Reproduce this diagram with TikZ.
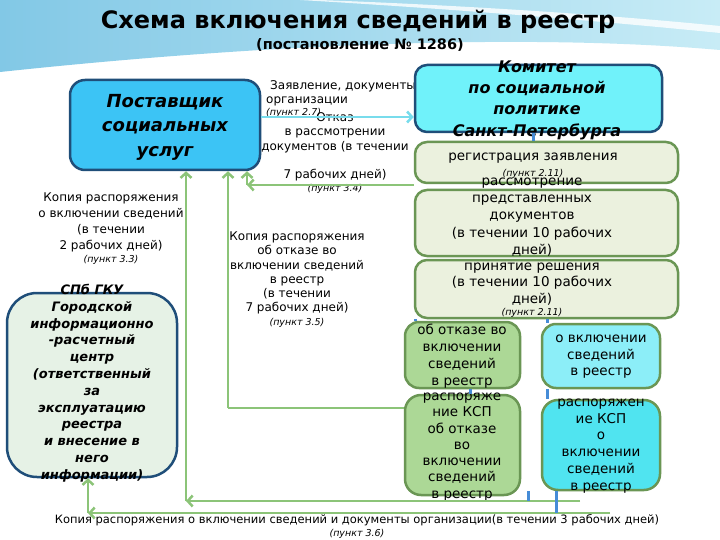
\documentclass[tikz,border=0pt]{standalone}
\usepackage{fontspec}
\setmainfont{DejaVu Sans}
\usetikzlibrary{arrows.meta,calc}

\definecolor{postblue}{RGB}{60,196,245}
\definecolor{komcyan}{RGB}{112,242,250}
\definecolor{darkedge}{RGB}{31,78,121}
\definecolor{paleolive}{RGB}{235,241,222}
\definecolor{greenedge}{RGB}{106,150,84}
\definecolor{refusegreen}{RGB}{172,216,150}
\definecolor{inclcyan}{RGB}{140,238,248}
\definecolor{ordercyan}{RGB}{80,228,240}
\definecolor{spbfill}{RGB}{230,242,230}
\definecolor{linkgreen}{RGB}{140,196,120}
\definecolor{linkcyan}{RGB}{120,220,236}
\definecolor{tickblue}{RGB}{70,140,215}
\definecolor{bgdeep}{RGB}{130,200,230}
\definecolor{bgpale}{RGB}{200,236,246}

\newcommand\setfs[2]{\fontsize{#1}{#2}\selectfont}

\begin{document}
\begin{tikzpicture}[x=1pt,y=-1pt,
    box/.style={rounded corners=#1, line width=2.5pt, inner sep=0pt},
    box/.default=12pt,
    lbl/.style={align=center, inner sep=0pt},
    garr/.style={draw=linkgreen, line width=2.5pt, -{Straight Barb[length=5pt,width=11pt]}},
    gline/.style={draw=linkgreen, line width=2.5pt},
    carr/.style={draw=linkcyan, line width=2.5pt, -{Straight Barb[length=5pt,width=11pt]}},
    bluetick/.style={draw=tickblue, line width=3pt}]

  % background
  \useasboundingbox (0,0) rectangle (720,540);
  \fill[white] (0,0) rectangle (720,540);
  \shade[left color=bgdeep, right color=bgpale] (0,0) -- (720,0) -- (720,50)
    .. controls (550,35) and (300,40) .. (0,72) -- cycle;
  \fill[white, opacity=0.8] (320,0) .. controls (480,6) and (620,16) .. (720,26)
    -- (720,33) .. controls (610,22) and (470,10) .. (300,0) -- cycle;

  % title
  \node[lbl, font=\setfs{24}{28}\bfseries] (title) at (358,22) {Схема включения сведений в реестр};
  \node[lbl, font=\setfs{14.5}{17}\bfseries] (subtitle) at (360,45) {(постановление № 1286)};

  % label under the committee box
  \node[lbl, anchor=west, align=left, font=\setfs{12}{14}] (apply-t) at (266,99)
    {\hspace*{4pt}Заявление, документы\\организации\\[-2pt]{\setfs{9.5}{11}\itshape (пункт 2.7)}};

  % boxes
  \node[box=15pt, draw=darkedge, fill=postblue, minimum width=190pt, minimum height=90pt] (post) at (165,125) {};
  \node[box, draw=darkedge, fill=komcyan, minimum width=247pt, minimum height=67pt] (kom) at (538.5,98.5) {};
  \node[box, draw=greenedge, fill=paleolive, minimum width=263pt, minimum height=41pt] (reg) at (546.5,162.5) {};
  \node[box, draw=greenedge, fill=paleolive, minimum width=263pt, minimum height=66pt] (rass) at (546.5,223) {};
  \node[box, draw=greenedge, fill=paleolive, minimum width=263pt, minimum height=58pt] (prin) at (546.5,289) {};
  \node[box=14pt, draw=greenedge, fill=refusegreen, minimum width=115pt, minimum height=66pt] (otk) at (462.5,355) {};
  \node[box=14pt, draw=greenedge, fill=inclcyan, minimum width=118pt, minimum height=64pt] (vkl) at (601,356) {};
  \node[box=16pt, draw=greenedge, fill=refusegreen, minimum width=115pt, minimum height=100pt] (rotk) at (462.5,445) {};
  \node[box=16pt, draw=greenedge, fill=ordercyan, minimum width=118pt, minimum height=90pt] (rvkl) at (601,445) {};
  \node[box=30pt, draw=darkedge, fill=spbfill, minimum width=170pt, minimum height=184pt] (spb) at (92,385) {};

  % box texts
  \node[lbl, font=\setfs{18}{24.5}\bfseries\itshape] (post-t) at (165,127) {Поставщик\\социальных\\услуг};
  \node[lbl, font=\setfs{16}{21.3}\bfseries\itshape] (kom-t) at (537,100) {Комитет\\по социальной\\политике\\Санкт-Петербурга};
  \node[lbl, font=\setfs{13.5}{17}] (reg-t) at (533,166) {регистрация заявления\\[-1pt]{\setfs{9.5}{11}\itshape (пункт 2.11)}};
  \node[lbl, font=\setfs{13.5}{17.3}] (rass-t) at (532,217) {рассмотрение\\представленных\\документов\\(в течении 10 рабочих\\дней)};
  \node[lbl, font=\setfs{13.5}{16.5}] (prin-t) at (532,290) {принятие решения\\(в течении 10 рабочих\\дней)\\[-4pt]{\setfs{9.5}{11}\itshape (пункт 2.11)}};
  \node[lbl, font=\setfs{13.5}{17}] (otk-t) at (462,356.5) {об отказе во\\включении\\сведений\\в реестр};
  \node[lbl, font=\setfs{13.5}{16.5}] (vkl-t) at (601,357) {о включении\\сведений\\в реестр};
  \node[lbl, font=\setfs{13.5}{16.3}] (rotk-t) at (462,447) {распоряже\\ние КСП\\об отказе\\во\\включении\\сведений\\в реестр};
  \node[lbl, font=\setfs{13.5}{16.8}] (rvkl-t) at (601,446) {распоряжен\\ие КСП\\о\\включении\\сведений\\в реестр};
  \node[lbl, font=\setfs{13}{16.8}\bfseries\itshape] (spb-t) at (92,383) {СПб ГКУ\\Городской\\информационно\\-расчетный\\центр\\(ответственный\\за\\эксплуатацию\\реестра\\и внесение в\\него\\информации)};

  % connector labels
  \node[lbl, font=\setfs{12}{14.5}] (refuse-t) at (335,153) {Отказ\\в рассмотрении\\документов (в течении\\[14pt]7 рабочих дней)\\[-2pt]{\setfs{9.5}{11}\itshape (пункт 3.4)}};
  \node[lbl, font=\setfs{12}{16}] (copy33-t) at (111,229) {Копия распоряжения\\о включении сведений\\(в течении\\2 рабочих дней)\\[-3pt]{\setfs{9.5}{11}\itshape (пункт 3.3)}};
  \node[lbl, font=\setfs{12}{14.2}] (copy35-t) at (297,280) {Копия распоряжения\\об отказе во\\включении сведений\\в реестр\\(в течении\\7 рабочих дней)\\{\setfs{9.5}{11}\itshape (пункт 3.5)}};
  \node[lbl, font=\setfs{11.5}{13}] (copy36-t) at (357,527) {Копия распоряжения о включении сведений и документы организации(в течении 3 рабочих дней)\\{\setfs{9.5}{11}\itshape (пункт 3.6)}};

  % corners of the green connectors
  \coordinate (c34) at (247,185);
  \coordinate (c35) at (228,408);
  \coordinate (b1s) at (580,501);
  \coordinate (b1c) at (186,501);
  \coordinate (b2s) at (610,513);
  \coordinate (b2c) at (88,513);

  % connectors
  \draw[carr] ([yshift=8pt]post.east) -- ([yshift=8pt]post.east -| kom.west);
  \draw[garr] (reg.south west |- c34) -- (c34);
  \draw[garr] (c34) -- (c34 |- post.south);
  \draw[gline] (rotk.west |- c35) -- (c35);
  \draw[garr] (c35) -- (c35 |- post.south);
  \draw[garr] (b1s) -- (b1c);
  \draw[garr] (b1c) -- (b1c |- post.south);
  \draw[garr] (b2s) -- (b2c);
  \draw[garr] (b2c) -- (b2c |- spb.south);

  % blue ticks between the steps
  \draw[bluetick] ($(kom.south)+(-5,0)$) -- ($(kom.south |- reg.north)+(-5,0)$);
  \draw[bluetick] ($(otk.north west)+(12,0)$) -- ($(otk.north west |- prin.south)+(12,0)$);
  \draw[bluetick] ($(vkl.north west)+(7,0)$) -- ($(vkl.north west |- prin.south)+(7,0)$);
  \draw[bluetick] ($(otk.south)+(8,0)$) -- ($(otk.south |- rotk.north)+(8,0)$);
  \draw[bluetick] ($(vkl.south west)+(7,0)$) -- ($(vkl.south west |- rvkl.north)+(7,0)$);
  \draw[bluetick] ($(rotk.south east)+(7,-5)$) -- ($(rotk.south east |- b1s)+(7,0)$);
  \draw[bluetick] ($(rvkl.south west)+(16,0)$) -- ($(rvkl.south west |- b2s)+(16,0)$);
\end{tikzpicture}
\end{document}
